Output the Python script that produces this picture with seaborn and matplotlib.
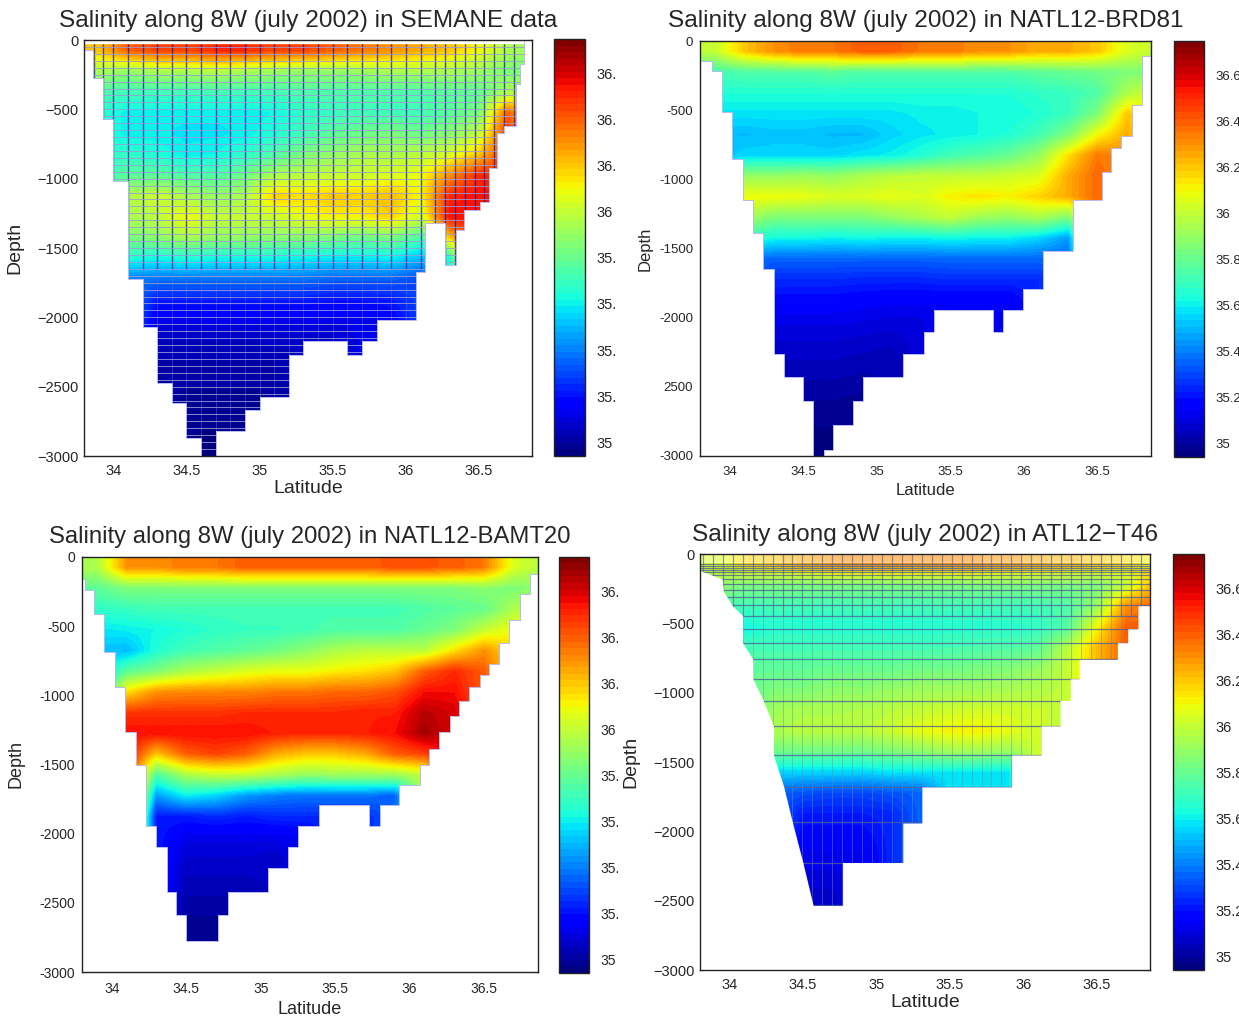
import numpy as np
import pandas as pd
import seaborn as sns
import matplotlib.pyplot as plt

# Salinity sections along 8W, four panels sharing one colour scale.
# Each list below is one latitude column, read from the surface downwards.

lat_centers = [33.9, 34.1, 34.3, 34.5, 34.7, 34.9, 35.1, 35.3, 35.5, 35.7, 35.9, 36.1, 36.3, 36.5, 36.7, 36.9]
depth_centers = [75, 225, 375, 525, 675, 825, 975, 1125, 1275, 1425, 1575, 1725, 1875, 2025, 2175, 2325, 2475, 2625, 2775, 2925]

semane_columns = [
    [36.2, 35.95, 35.75, 35.68],
    [36.4, 35.9, 35.72, 35.6, 35.6, 35.68, 35.78, 35.95, 35.95, 35.85, 35.65, 35.4],
    [36.45, 35.95, 35.72, 35.6, 35.6, 35.65, 35.78, 36.02, 35.98, 35.88, 35.62, 35.38, 35.22, 35.12, 35.05, 35.02],
    [36.45, 35.95, 35.72, 35.6, 35.58, 35.6, 35.75, 35.95, 36.1, 35.95, 35.65, 35.38, 35.22, 35.12, 35.05, 35.02, 35.0, 34.98, 34.97],
    [36.5, 35.98, 35.72, 35.6, 35.58, 35.62, 35.75, 35.9, 36.0, 35.9, 35.62, 35.38, 35.22, 35.12, 35.05, 35.02, 35.0, 34.98, 34.97, 34.96],
    [36.5, 35.95, 35.72, 35.6, 35.6, 35.68, 35.82, 35.95, 36.0, 35.9, 35.62, 35.38, 35.22, 35.12, 35.05, 35.02, 35.0, 34.98],
    [36.45, 35.92, 35.72, 35.62, 35.65, 35.75, 35.95, 36.18, 36.02, 35.88, 35.62, 35.38, 35.22, 35.12, 35.06, 35.02, 35.0],
    [36.45, 35.9, 35.75, 35.68, 35.72, 35.85, 35.98, 36.15, 36.08, 35.88, 35.6, 35.38, 35.22, 35.12, 35.06],
    [36.4, 35.9, 35.75, 35.7, 35.78, 35.9, 36.0, 36.2, 36.12, 35.85, 35.58, 35.35, 35.2, 35.12, 35.06],
    [36.35, 35.92, 35.75, 35.72, 35.82, 35.95, 36.02, 36.18, 36.12, 35.82, 35.58, 35.35, 35.2, 35.12],
    [36.3, 35.95, 35.75, 35.72, 35.85, 35.95, 36.05, 36.22, 36.18, 35.85, 35.6, 35.35, 35.22, 35.15],
    [36.25, 35.95, 35.75, 35.72, 35.82, 35.98, 36.08, 36.1, 36.02, 35.75, 35.5, 35.3],
    [36.2, 35.95, 35.78, 35.78, 35.88, 36.05, 36.3, 36.5, 36.55, 36.2, 35.65],
    [36.1, 35.92, 35.8, 35.85, 36.0, 36.2, 36.5, 36.55],
    [35.95, 35.85, 35.95, 36.4, 36.5],
    [35.9, 35.85, 36.0],
]

brd81_columns = [
    [36.0, 35.72, 35.65, 35.58, 35.52, 35.5],
    [36.2, 35.75, 35.65, 35.58, 35.5, 35.55, 35.9, 36.1, 35.95, 35.7, 35.4],
    [36.3, 35.75, 35.65, 35.58, 35.52, 35.55, 35.9, 36.1, 35.85, 35.62, 35.35, 35.25, 35.17, 35.12, 35.08, 35.05],
    [36.35, 35.75, 35.65, 35.58, 35.52, 35.55, 35.92, 36.08, 35.85, 35.62, 35.35, 35.25, 35.17, 35.12, 35.08, 35.05, 35.02, 34.99, 34.97, 34.96],
    [36.35, 35.78, 35.65, 35.58, 35.5, 35.55, 35.9, 36.05, 35.85, 35.6, 35.35, 35.25, 35.17, 35.12, 35.08, 35.05, 35.02, 34.99, 34.97, 34.96],
    [36.4, 35.75, 35.65, 35.58, 35.5, 35.58, 35.95, 36.05, 35.85, 35.62, 35.35, 35.24, 35.16, 35.11, 35.07, 35.04, 35.01, 34.98],
    [36.4, 35.75, 35.65, 35.58, 35.55, 35.6, 35.98, 36.08, 35.9, 35.6, 35.35, 35.24, 35.15, 35.1, 35.06, 35.03],
    [36.35, 35.75, 35.65, 35.6, 35.58, 35.65, 36.0, 36.05, 35.95, 35.6, 35.35, 35.24, 35.15, 35.1],
    [36.35, 35.75, 35.65, 35.6, 35.6, 35.72, 36.0, 36.12, 36.0, 35.62, 35.36, 35.25, 35.15],
    [36.3, 35.75, 35.65, 35.62, 35.62, 35.75, 36.0, 36.15, 35.92, 35.6, 35.36, 35.25, 35.15],
    [36.3, 35.75, 35.65, 35.62, 35.65, 35.8, 36.02, 36.12, 35.9, 35.6, 35.36, 35.25, 35.15, 35.12],
    [36.25, 35.78, 35.68, 35.65, 35.72, 35.9, 36.05, 36.18, 35.95, 35.55, 35.36, 35.25],
    [36.25, 35.8, 35.7, 35.7, 35.85, 36.15, 36.25, 36.25, 35.85, 35.45, 35.35],
    [36.2, 35.82, 35.75, 35.85, 36.1, 36.35, 36.38, 36.38],
    [36.05, 35.85, 35.95, 36.2, 36.25, 36.3],
    [36.0, 35.85, 36.05, 36.1],
]

bamt20_columns = [
    [35.95, 35.78, 35.68, 35.58, 35.52],
    [36.3, 35.85, 35.7, 35.6, 35.5, 35.78, 36.15, 36.48, 36.55],
    [36.3, 35.85, 35.72, 35.62, 35.65, 35.85, 36.3, 36.48, 36.55, 36.2, 35.75, 35.45, 35.22],
    [36.35, 35.85, 35.72, 35.65, 35.72, 35.95, 36.32, 36.48, 36.55, 36.4, 35.95, 35.6, 35.22, 35.12, 35.08, 35.05, 35.02, 34.99],
    [36.35, 35.85, 35.72, 35.68, 35.75, 36.0, 36.32, 36.48, 36.55, 36.45, 36.0, 35.55, 35.25, 35.12, 35.08, 35.05, 35.02, 34.99, 34.97],
    [36.4, 35.85, 35.72, 35.7, 35.78, 36.05, 36.32, 36.5, 36.55, 36.4, 36.0, 35.45, 35.22, 35.12, 35.08, 35.05, 35.02],
    [36.4, 35.85, 35.72, 35.7, 35.82, 36.08, 36.35, 36.5, 36.52, 36.25, 35.95, 35.4, 35.25, 35.12, 35.06],
    [36.4, 35.85, 35.72, 35.72, 35.88, 36.08, 36.35, 36.5, 36.5, 36.2, 35.9, 35.38, 35.25, 35.15],
    [36.4, 35.85, 35.72, 35.75, 35.95, 36.12, 36.38, 36.5, 36.5, 36.2, 35.92, 35.38, 35.25],
    [36.4, 35.85, 35.72, 35.75, 35.98, 36.15, 36.38, 36.52, 36.52, 36.25, 35.92, 35.38, 35.25],
    [36.42, 35.85, 35.72, 35.75, 35.98, 36.2, 36.42, 36.52, 36.55, 36.4, 35.92, 35.35],
    [36.42, 35.85, 35.75, 35.8, 35.98, 36.4, 36.55, 36.65, 36.68, 36.45, 36.0],
    [36.4, 35.85, 35.78, 35.85, 36.15, 36.5, 36.55, 36.6, 36.6],
    [36.35, 35.88, 35.8, 36.0, 36.3, 36.4],
    [36.05, 35.85, 35.95, 36.1, 36.15],
    [35.95, 35.9, 36.0],
]

t46_columns = [
    [36.05, 35.9, 35.75],
    [36.15, 35.85, 35.72, 35.62, 35.72, 35.78],
    [36.2, 35.85, 35.72, 35.65, 35.72, 35.78, 35.85, 35.92, 35.95, 35.82, 35.55, 35.35],
    [36.25, 35.85, 35.72, 35.65, 35.72, 35.78, 35.85, 35.95, 35.98, 35.82, 35.55, 35.32, 35.22, 35.17, 35.13, 35.1, 35.07],
    [36.3, 35.85, 35.72, 35.65, 35.72, 35.8, 35.88, 35.95, 35.98, 35.82, 35.55, 35.3, 35.22, 35.17, 35.13, 35.1, 35.07],
    [36.3, 35.85, 35.72, 35.65, 35.72, 35.8, 35.88, 35.96, 35.98, 35.82, 35.55, 35.3, 35.22, 35.17, 35.13],
    [36.3, 35.85, 35.72, 35.65, 35.72, 35.8, 35.9, 35.98, 36.02, 35.85, 35.58, 35.32, 35.24],
    [36.3, 35.85, 35.72, 35.65, 35.72, 35.82, 35.92, 36.0, 36.08, 35.88, 35.58, 35.35],
    [36.3, 35.85, 35.72, 35.65, 35.73, 35.82, 35.92, 36.02, 36.12, 35.92, 35.58],
    [36.3, 35.85, 35.72, 35.66, 35.74, 35.84, 35.93, 36.03, 36.13, 35.92, 35.58],
    [36.28, 35.85, 35.72, 35.66, 35.75, 35.86, 35.94, 36.03, 36.08, 35.9, 35.58],
    [36.25, 35.85, 35.72, 35.68, 35.78, 35.9, 35.96, 36.02, 36.02],
    [36.22, 35.85, 35.75, 35.75, 35.98, 36.0, 36.0],
    [36.2, 35.85, 35.9, 36.1, 36.22],
    [36.15, 36.0, 36.3, 36.4, 36.4],
    [36.1, 36.25, 36.4],
]

# sea bottom under each section, as stairs (edges in latitude, depth per step)
semane_edges = [33.8, 33.86, 33.93, 34.0, 34.1, 34.2, 34.3, 34.4, 34.5, 34.6, 34.7, 34.9, 35.0, 35.2, 35.3, 35.6, 35.7, 35.8,
                36.07, 36.13, 36.27, 36.34, 36.4, 36.51, 36.57, 36.62, 36.67, 36.75, 36.78, 36.81, 36.9]
semane_bottom = [75, 275, 570, 1020, 1725, 2070, 2470, 2620, 2870, 3000, 2820, 2670, 2575, 2270, 2170, 2270, 2170, 2020,
                 1670, 1320, 1620, 1370, 1225, 1170, 920, 670, 620, 320, 170, 0]

brd81_edges = [33.8, 33.88, 33.95, 34.02, 34.09, 34.16, 34.23, 34.3, 34.37, 34.5, 34.57, 34.64, 34.7, 34.84, 34.91, 35.18, 35.32,
               35.39, 35.79, 35.86, 35.99, 36.13, 36.33, 36.53, 36.59, 36.66, 36.73, 36.8, 36.9]
brd81_bottom = [145, 215, 510, 855, 1150, 1385, 1650, 2260, 2430, 2600, 3000, 2955, 2775, 2600, 2430, 2260, 2100,
                1945, 2100, 1945, 1795, 1520, 1150, 945, 770, 690, 460, 110]

bamt20_edges = [33.8, 33.82, 33.88, 33.95, 34.02, 34.09, 34.16, 34.23, 34.3, 34.37, 34.43, 34.5, 34.71, 34.78, 35.05, 35.18, 35.25,
                35.39, 35.73, 35.8, 35.93, 36.07, 36.13, 36.2, 36.27, 36.33, 36.4, 36.47, 36.53, 36.6, 36.67, 36.74, 36.81, 36.9]
bamt20_bottom = [160, 240, 410, 690, 940, 1265, 1505, 1945, 2095, 2420, 2590, 2775, 2590, 2420, 2250, 2095, 1945,
                 1795, 1945, 1795, 1645, 1505, 1385, 1265, 1150, 1040, 940, 850, 770, 620, 455, 270, 120]

# ATL12-T46 has partial steps, so its bottom is an outline rather than stairs
t46_outline_lat = [33.8, 33.95, 33.96, 34.02, 34.09, 34.09, 34.16, 34.16, 34.23, 34.3, 34.3, 34.37, 34.43, 34.5, 34.57, 34.77, 34.77,
                   35.18, 35.18, 35.31, 35.31, 35.92, 35.92, 36.12, 36.12, 36.25, 36.25, 36.32, 36.32, 36.38, 36.38, 36.64, 36.64,
                   36.71, 36.71, 36.78, 36.78, 36.9]
t46_outline_depth = [120, 180, 270, 373, 445, 640, 760, 900, 1055, 1240, 1450, 1680, 1940, 2225, 2535, 2535, 2225,
                     2225, 1940, 1940, 1680, 1680, 1450, 1450, 1240, 1240, 1055, 1055, 900, 900, 760, 760, 640,
                     640, 540, 540, 373, 373]
t46_levels = [70, 85, 100, 115, 130, 150, 180, 215, 260, 310, 370, 445, 540, 640, 760, 900, 1060, 1240, 1450, 1680, 1930, 2230, 2530]

titles = ["Salinity along 8W (july 2002) in SEMANE data", "Salinity along 8W (july 2002) in NATL12-BRD81",
          "Salinity along 8W (july 2002) in NATL12-BAMT20", "Salinity along 8W (july 2002) in ATL12\u2212T46"]

lat_ticks = [34, 34.5, 35, 35.5, 36, 36.5]
lat_labels = ["34", "34.5", "35", "35.5", "36", "36.5"]
depth_ticks = [0, 500, 1000, 1500, 2000, 2500, 3000]
labels_minus = ["0", "\u2212500", "\u22121000", "\u22121500", "\u22122000", "\u22122500", "\u22123000"]
labels_hyphen = ["0", "-500", "-1000", "-1500", "-2000", "-2500", "-3000"]
labels_brd81 = ["0", "-500", "-1000", "-1500", "-2000", "2500", "-3000"]
sal_ticks = [35, 35.2, 35.4, 35.6, 35.8, 36, 36.2, 36.4, 36.6]
sal_full = ["35", "35.2", "35.4", "35.6", "35.8", "36", "36.2", "36.4", "36.6"]
sal_cut = ["35", "35.", "35.", "35.", "35.", "36", "36.", "36.", "36."]

sns.set_theme(style="white")
plt.rcParams["font.family"] = ["Liberation Sans", "DejaVu Sans"]
jet64 = plt.get_cmap("jet", 64)

W, H = 1239, 1024
LAT0, DLAT, DZ = 33.8, 0.2, 150.0


def box(l, t, r, b):
    return [l / W, 1 - b / H, (r - l) / W, (b - t) / H]


def to_x(lat):
    return (np.asarray(lat, dtype=float) - LAT0) / DLAT


def to_y(depth):
    return np.asarray(depth, dtype=float) / DZ


def section(ax, cax, columns, ylabels, clabels, title, tick_fs, title_fs, label_fs, title_pad, xpad, ypad, xlabelpad, ylabel_x):
    table = pd.DataFrame({lat: pd.Series(col, dtype=float) for lat, col in zip(lat_centers, columns)}).reindex(range(len(depth_centers)))
    table.index = depth_centers
    sns.heatmap(table, ax=ax, cbar_ax=cax, cmap=jet64, vmin=34.94, vmax=36.75, xticklabels=False, yticklabels=False)
    cb = ax.collections[0].colorbar
    ax.collections[0].set_visible(False)
    # smooth the field the way the original shaded plots do, the bottom is painted over afterwards
    ax.imshow(table.ffill().values, extent=(0, 16, 20, 0), aspect="auto", cmap=jet64, vmin=34.94, vmax=36.75,
              interpolation="bilinear", interpolation_stage="data", zorder=1.2)
    ax.set_xlim(0, (36.862 - LAT0) / DLAT)
    ax.set_ylim(20, 0)
    ax.set_xticks(to_x(lat_ticks))
    ax.set_xticklabels(lat_labels, rotation=0, fontsize=tick_fs)
    ax.set_yticks(to_y(depth_ticks))
    ax.set_yticklabels(ylabels, rotation=0, fontsize=tick_fs)
    ax.tick_params(direction="in", length=4, width=0.8, top=True, right=True, bottom=True, left=True, color="#333333")
    ax.tick_params(axis="x", pad=xpad)
    ax.tick_params(axis="y", pad=ypad)
    ax.set_xlabel("Latitude", fontsize=label_fs, labelpad=xlabelpad)
    ax.set_ylabel("Depth", fontsize=label_fs)
    ax.yaxis.set_label_coords(ylabel_x, 0.5)
    ax.set_title(title, fontsize=title_fs, pad=title_pad)
    for s in ax.spines.values():
        s.set_visible(True)
        s.set_color("#222222")
        s.set_linewidth(1.0)
    cb.set_ticks(sal_ticks)
    cb.set_ticklabels(clabels)
    cb.ax.tick_params(direction="in", length=4, width=0.8, left=True, right=True, labelsize=tick_fs, pad=8, color="#333333")
    cb.outline.set_visible(True)
    cb.outline.set_edgecolor("#222222")
    cb.outline.set_linewidth(1.0)


def bottom_stairs(ax, edges, bottom):
    ax.stairs(to_y(bottom), to_x(edges), baseline=21, fill=True, color="white", zorder=1.8)
    ax.stairs(to_y(bottom), to_x(edges), baseline=21, fill=False, color="#b8b8f0", linewidth=0.7, zorder=1.85)


fig = plt.figure(figsize=(W / 100, H / 100), dpi=100)

ax1 = fig.add_axes(box(84, 40, 532, 456))
cax1 = fig.add_axes(box(554, 39, 585, 456))
section(ax1, cax1, semane_columns, labels_minus, sal_cut, titles[0], 10.5, 17.6, 14, 9, 6, 4, 1, -0.135)
# SEMANE grid cells
grid_x = np.r_[33.87, 33.93, np.arange(34.0, 36.25, 0.1), np.arange(36.27, 36.8, 0.0667)]
grid_y = np.arange(50, 3000, 50)
ax1.vlines(to_x(grid_x), 0, to_y(1650), color="#16169a", linewidth=1.0, alpha=0.75, zorder=1.5)
ax1.vlines(to_x(grid_x), to_y(1650), 20, color="#6a6ad0", linewidth=0.6, alpha=0.55, zorder=1.5)
ax1.hlines(to_y(grid_y), 0, 16, color="#9a9ad8", linewidth=0.7, alpha=0.85, zorder=1.5)
bottom_stairs(ax1, semane_edges, semane_bottom)
ax1.fill_between([0, 16], 0, to_y(20), color="white", zorder=1.8)

ax2 = fig.add_axes(box(700, 41, 1151, 456))
cax2 = fig.add_axes(box(1174, 41, 1204, 457))
section(ax2, cax2, brd81_columns, labels_brd81, sal_full, titles[1], 9.5, 17.6, 12, 10, 7, 5, 4, -0.105)
bottom_stairs(ax2, brd81_edges, brd81_bottom)

ax3 = fig.add_axes(box(82, 557, 538, 972))
cax3 = fig.add_axes(box(559, 557, 589, 973))
section(ax3, cax3, bamt20_columns, labels_hyphen, sal_cut, titles[2], 10, 17.2, 13, 10, 7, 5, 4, -0.125)
bottom_stairs(ax3, bamt20_edges, bamt20_bottom)

ax4 = fig.add_axes(box(700, 554, 1150, 970))
cax4 = fig.add_axes(box(1173, 554, 1204, 970))
section(ax4, cax4, t46_columns, labels_minus, sal_full, titles[3], 10.5, 17.6, 14, 9, 6, 4, 1, -0.135)
# ATL12-T46 model cells, pale near the surface
t46_x = np.arange(33.82, 36.9, 0.0677)
ax4.fill_between([0, 16], 0, to_y(60), color="white", alpha=0.45, zorder=1.45)
ax4.vlines(to_x(t46_x), 0, to_y(450), color="#5a6a90", linewidth=0.9, alpha=0.7, zorder=1.5)
ax4.vlines(to_x(t46_x), to_y(450), 20, color="#7a8a90", linewidth=0.6, alpha=0.55, zorder=1.5)
ax4.hlines(to_y(t46_levels), 0, 16, color="#50609a", linewidth=0.9, alpha=0.8, zorder=1.5)
ax4.fill_between(to_x(t46_outline_lat), to_y(t46_outline_depth), 21, color="white", linewidth=0, zorder=1.8)

fig.savefig("out.png", dpi=100)
